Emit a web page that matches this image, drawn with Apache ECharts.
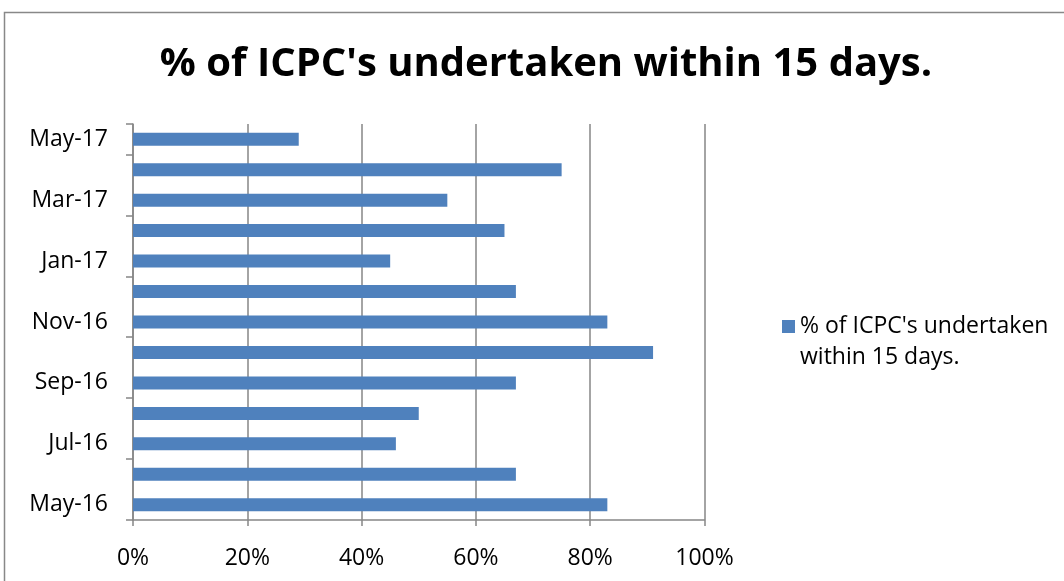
<!DOCTYPE html>
<html>
<head>
<meta charset="utf-8">
<script src="https://cdn.jsdelivr.net/npm/echarts@6/dist/echarts.min.js"></script>
<style>
  html, body { margin: 0; padding: 0; background: #fff; }
  #chart { width: 1064px; height: 581px; }
</style>
</head>
<body>
<div id="chart"></div>
<script>
// Monthly share of ICPCs undertaken within 15 days
const seriesName = "% of ICPC's undertaken within 15 days.";
const months = ['May-16', 'Jun-16', 'Jul-16', 'Aug-16', 'Sep-16', 'Oct-16', 'Nov-16',
                'Dec-16', 'Jan-17', 'Feb-17', 'Mar-17', 'Apr-17', 'May-17'];
const shareWithin15Days = [83, 67, 46, 50, 67, 91, 83, 67, 45, 65, 55, 75, 29];
const percentTicks = [0, 20, 40, 60, 80, 100];

const font = 'Open Sans';
const gray = '#868686';

const chart = echarts.init(document.getElementById('chart'));
chart.setOption({
  animation: false,
  backgroundColor: '#fff',
  title: {
    text: seriesName,
    left: 541,
    top: 40,
    textAlign: 'center',
    textStyle: { fontFamily: font, fontWeight: 'bold', fontSize: 40, color: '#000' }
  },
  legend: {
    left: 777,
    top: 275,
    orient: 'vertical',
    icon: 'rect',
    itemWidth: 13,
    itemHeight: 13,
    itemGap: 0,
    // leading empty line keeps the swatch beside the first line of the wrapped name
    formatter: () => "\n% of ICPC's undertaken\nwithin 15 days.",
    textStyle: { fontFamily: font, fontSize: 23, color: '#000', lineHeight: 31 }
  },
  grid: { left: 133, right: 359.5, top: 124, bottom: 61, containLabel: false },
  xAxis: {
    type: 'value',
    min: percentTicks[0],
    max: percentTicks[percentTicks.length - 1],
    interval: 20,
    axisLine: { show: true, lineStyle: { color: gray, width: 1.5 } },
    axisTick: { show: true, length: 6, lineStyle: { color: gray, width: 1.5 } },
    splitLine: { show: true, lineStyle: { color: gray, width: 1.5 } },
    axisLabel: {
      margin: 27,
      formatter: v => v + '%',
      fontFamily: font, fontSize: 23, color: '#000'
    }
  },
  yAxis: {
    type: 'category',
    data: months,
    axisLine: { show: true, lineStyle: { color: gray, width: 1.5 } },
    axisTick: { show: true, length: 7, interval: 1, lineStyle: { color: gray, width: 1.5 } },
    axisLabel: {
      interval: 1,
      margin: 25,
      fontFamily: font, fontSize: 23, color: '#000'
    },
    splitLine: { show: false }
  },
  series: [{
    name: seriesName,
    type: 'bar',
    data: shareWithin15Days,
    barWidth: 13,
    itemStyle: { color: '#4F81BD' }
  }],
  graphic: [{
    type: 'rect',
    shape: { x: 4.5, y: 12.5, width: 1100, height: 600 },
    style: { fill: 'none', stroke: '#888', lineWidth: 1.5 },
    silent: true
  }]
});
</script>
</body>
</html>
